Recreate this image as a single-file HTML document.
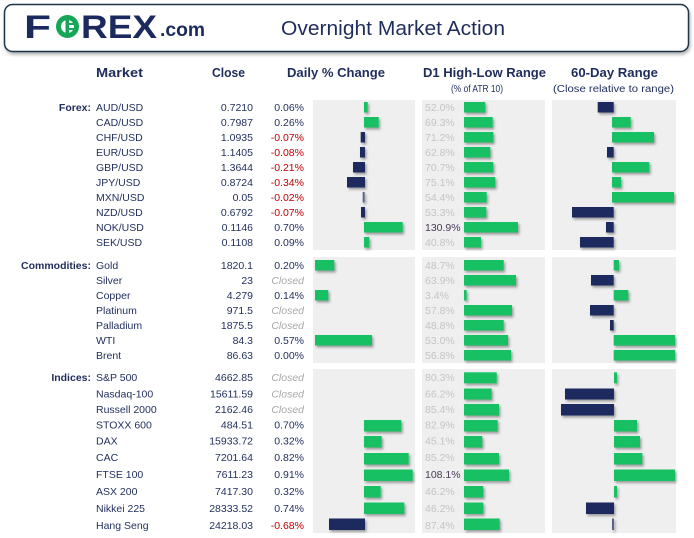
<!DOCTYPE html>
<html><head><meta charset="utf-8"><style>
html,body{margin:0;padding:0;background:#fff;}
svg{display:block;}
text{font-family:"Liberation Sans",Arial,sans-serif;}
</style></head><body>
<svg width="694" height="538" viewBox="0 0 694 538" xmlns="http://www.w3.org/2000/svg">
<defs>
<filter id="sh" x="-20%" y="-30%" width="150%" height="180%">
<feDropShadow dx="1.5" dy="2" stdDeviation="1.2" flood-color="#000" flood-opacity="0.35"/>
</filter>
<filter id="hs" x="-5%" y="-20%" width="110%" height="150%">
<feDropShadow dx="1" dy="2.5" stdDeviation="1.5" flood-color="#000" flood-opacity="0.3"/>
</filter>
</defs>
<rect x="0" y="0" width="694" height="538" fill="#fff"/>
<!-- header box -->
<rect x="4.5" y="4.5" width="684" height="47" rx="8" fill="#fff" stroke="#1c3646" stroke-width="1.5" filter="url(#hs)"/>
<!-- logo -->
<text x="24" y="38" font-size="32" font-weight="bold" fill="#1a2a5e" textLength="27" lengthAdjust="spacingAndGlyphs">F</text>
<circle cx="67.5" cy="26.5" r="9" fill="none" stroke="#17a558" stroke-width="5"/>
<rect x="65.5" y="20" width="3.5" height="13" fill="#17a558"/>
<rect x="69" y="23" width="7" height="2" fill="#17a558"/>
<rect x="69" y="28" width="7" height="2" fill="#17a558"/>
<text x="81" y="38" font-size="32" font-weight="bold" fill="#1a2a5e" textLength="76" lengthAdjust="spacingAndGlyphs">REX</text>
<text x="160" y="36" font-size="19" font-weight="bold" fill="#1a2a5e" textLength="45" lengthAdjust="spacingAndGlyphs">.com</text>
<text x="281" y="35" font-size="20" fill="#1f2d5c" textLength="224" lengthAdjust="spacingAndGlyphs">Overnight Market Action</text>
<!-- column headers -->
<g font-size="13" font-weight="bold" fill="#1f2d5c">
<text x="96" y="77" textLength="47" lengthAdjust="spacingAndGlyphs">Market</text>
<text x="212" y="77" textLength="33" lengthAdjust="spacingAndGlyphs">Close</text>
<text x="287" y="77" textLength="98" lengthAdjust="spacingAndGlyphs">Daily % Change</text>
<text x="423" y="77" textLength="123" lengthAdjust="spacingAndGlyphs">D1 High-Low Range</text>
<text x="571" y="77" textLength="87" lengthAdjust="spacingAndGlyphs">60-Day Range</text>
</g>
<g font-size="10" fill="#1f2d5c">
<text x="451" y="92" textLength="52" lengthAdjust="spacingAndGlyphs">(% of ATR 10)</text>
<text x="553" y="92" textLength="121" lengthAdjust="spacingAndGlyphs">(Close relative to range)</text>
</g>
<!-- panels -->
<g fill="#efefef">
<rect x="313" y="100" width="102" height="150"/>
<rect x="422" y="100" width="123" height="150"/>
<rect x="552" y="100" width="124" height="150"/>
<rect x="313" y="257" width="102" height="106"/>
<rect x="422" y="257" width="123" height="106"/>
<rect x="552" y="257" width="124" height="106"/>
<rect x="313" y="369" width="102" height="164"/>
<rect x="422" y="369" width="123" height="164"/>
<rect x="552" y="369" width="124" height="164"/>
</g>
<!-- section labels -->
<g font-size="10.5" font-weight="bold" fill="#1f2d5c" text-anchor="end">
<text x="91" y="111">Forex:</text>
<text x="91" y="269">Commodities:</text>
<text x="91" y="381">Indices:</text>
</g>
<!-- FOREX rows -->
<g font-size="10.5" fill="#1f2d5c">
<text x="96" y="111">AUD/USD</text>
<text x="96" y="126">CAD/USD</text>
<text x="96" y="141">CHF/USD</text>
<text x="96" y="156">EUR/USD</text>
<text x="96" y="171">GBP/USD</text>
<text x="96" y="186">JPY/USD</text>
<text x="96" y="201">MXN/USD</text>
<text x="96" y="216">NZD/USD</text>
<text x="96" y="231">NOK/USD</text>
<text x="96" y="246">SEK/USD</text>
<text x="96" y="269">Gold</text>
<text x="96" y="284">Silver</text>
<text x="96" y="299">Copper</text>
<text x="96" y="314">Platinum</text>
<text x="96" y="329">Palladium</text>
<text x="96" y="344">WTI</text>
<text x="96" y="359">Brent</text>
<text x="96" y="381">S&amp;P 500</text>
<text x="96" y="397.5">Nasdaq-100</text>
<text x="96" y="413">Russell 2000</text>
<text x="96" y="428.5">STOXX 600</text>
<text x="96" y="444.5">DAX</text>
<text x="96" y="461">CAC</text>
<text x="96" y="478">FTSE 100</text>
<text x="96" y="495">ASX 200</text>
<text x="96" y="512">Nikkei 225</text>
<text x="96" y="529">Hang Seng</text>
</g>
<g font-size="10.5" fill="#1f2d5c" text-anchor="end">
<text x="253" y="111">0.7210</text>
<text x="253" y="126">0.7987</text>
<text x="253" y="141">1.0935</text>
<text x="253" y="156">1.1405</text>
<text x="253" y="171">1.3644</text>
<text x="253" y="186">0.8724</text>
<text x="253" y="201">0.05</text>
<text x="253" y="216">0.6792</text>
<text x="253" y="231">0.1146</text>
<text x="253" y="246">0.1108</text>
<text x="253" y="269">1820.1</text>
<text x="253" y="284">23</text>
<text x="253" y="299">4.279</text>
<text x="253" y="314">971.5</text>
<text x="253" y="329">1875.5</text>
<text x="253" y="344">84.3</text>
<text x="253" y="359">86.63</text>
<text x="253" y="381">4662.85</text>
<text x="253" y="397.5">15611.59</text>
<text x="253" y="413">2162.46</text>
<text x="253" y="428.5">484.51</text>
<text x="253" y="444.5">15933.72</text>
<text x="253" y="461">7201.64</text>
<text x="253" y="478">7611.23</text>
<text x="253" y="495">7417.30</text>
<text x="253" y="512">28333.52</text>
<text x="253" y="529">24218.03</text>
<!-- daily % -->
<text x="304" y="111">0.06%</text>
<text x="304" y="126">0.26%</text>
<text x="304" y="141" fill="#c00000">-0.07%</text>
<text x="304" y="156" fill="#c00000">-0.08%</text>
<text x="304" y="171" fill="#c00000">-0.21%</text>
<text x="304" y="186" fill="#c00000">-0.34%</text>
<text x="304" y="201" fill="#c00000">-0.02%</text>
<text x="304" y="216" fill="#c00000">-0.07%</text>
<text x="304" y="231">0.70%</text>
<text x="304" y="246">0.09%</text>
<text x="304" y="269">0.20%</text>
<text x="304" y="284" fill="#a8a8a8" font-style="italic">Closed</text>
<text x="304" y="299">0.14%</text>
<text x="304" y="314" fill="#a8a8a8" font-style="italic">Closed</text>
<text x="304" y="329" fill="#a8a8a8" font-style="italic">Closed</text>
<text x="304" y="344">0.57%</text>
<text x="304" y="359">0.00%</text>
<text x="304" y="381" fill="#a8a8a8" font-style="italic">Closed</text>
<text x="304" y="397.5" fill="#a8a8a8" font-style="italic">Closed</text>
<text x="304" y="413" fill="#a8a8a8" font-style="italic">Closed</text>
<text x="304" y="428.5">0.70%</text>
<text x="304" y="444.5">0.32%</text>
<text x="304" y="461">0.82%</text>
<text x="304" y="478">0.91%</text>
<text x="304" y="495">0.32%</text>
<text x="304" y="512">0.74%</text>
<text x="304" y="529" fill="#c00000">-0.68%</text>
</g>
<!-- D1 labels -->
<g font-size="10.5" fill="#c4c4c4">
<text x="425" y="111">52.0%</text>
<text x="425" y="126">69.3%</text>
<text x="425" y="141">71.2%</text>
<text x="425" y="156">62.8%</text>
<text x="425" y="171">70.7%</text>
<text x="425" y="186">75.1%</text>
<text x="425" y="201">54.4%</text>
<text x="425" y="216">53.3%</text>
<text x="425" y="231" fill="#4a3a5a">130.9%</text>
<text x="425" y="246">40.8%</text>
<text x="425" y="269">48.7%</text>
<text x="425" y="284">63.9%</text>
<text x="425" y="299">3.4%</text>
<text x="425" y="314">57.8%</text>
<text x="425" y="329">48.8%</text>
<text x="425" y="344">53.0%</text>
<text x="425" y="359">56.8%</text>
<text x="425" y="381">80.3%</text>
<text x="425" y="397.5">66.2%</text>
<text x="425" y="413">85.4%</text>
<text x="425" y="428.5">82.9%</text>
<text x="425" y="444.5">45.1%</text>
<text x="425" y="461">85.2%</text>
<text x="425" y="478" fill="#4a3a5a">108.1%</text>
<text x="425" y="495">46.2%</text>
<text x="425" y="512">46.2%</text>
<text x="425" y="529">87.4%</text>
</g>
<!-- bars -->
<g filter="url(#sh)">
<!-- forex daily -->
<rect x="364" y="102" width="3.7" height="10.5" fill="#12c064"/>
<rect x="364" y="117" width="14.7" height="10.5" fill="#12c064"/>
<rect x="360.7" y="132" width="4.3" height="10.5" fill="#1b2a60"/>
<rect x="360" y="147" width="5" height="10.5" fill="#1b2a60"/>
<rect x="353" y="162" width="12" height="10.5" fill="#1b2a60"/>
<rect x="347" y="177" width="18" height="10.5" fill="#1b2a60"/>
<rect x="362.7" y="192" width="2" height="10.5" fill="#5a6488"/>
<rect x="361" y="207" width="4" height="10.5" fill="#1b2a60"/>
<rect x="364" y="222" width="38.7" height="10.5" fill="#12c064"/>
<rect x="364" y="237" width="5.3" height="10.5" fill="#12c064"/>
<!-- forex D1 -->
<rect x="464" y="102" width="21.3" height="10.5" fill="#12c064"/>
<rect x="464" y="117" width="28.7" height="10.5" fill="#12c064"/>
<rect x="464" y="132" width="29.3" height="10.5" fill="#12c064"/>
<rect x="464" y="147" width="26.3" height="10.5" fill="#12c064"/>
<rect x="464" y="162" width="29.3" height="10.5" fill="#12c064"/>
<rect x="464" y="177" width="31.3" height="10.5" fill="#12c064"/>
<rect x="464" y="192" width="22.7" height="10.5" fill="#12c064"/>
<rect x="464" y="207" width="22.3" height="10.5" fill="#12c064"/>
<rect x="464" y="222" width="54" height="10.5" fill="#12c064"/>
<rect x="464" y="237" width="17" height="10.5" fill="#12c064"/>
<!-- forex 60d -->
<rect x="597.7" y="102" width="16" height="10.5" fill="#1b2a60"/>
<rect x="612" y="117" width="18.7" height="10.5" fill="#12c064"/>
<rect x="612" y="132" width="42" height="10.5" fill="#12c064"/>
<rect x="607" y="147" width="6.7" height="10.5" fill="#1b2a60"/>
<rect x="612" y="162" width="37.3" height="10.5" fill="#12c064"/>
<rect x="612" y="177" width="9" height="10.5" fill="#12c064"/>
<rect x="612" y="192" width="62" height="10.5" fill="#12c064"/>
<rect x="572" y="207" width="41.7" height="10.5" fill="#1b2a60"/>
<rect x="606" y="222" width="7.7" height="10.5" fill="#1b2a60"/>
<rect x="580" y="237" width="33.7" height="10.5" fill="#1b2a60"/>
<!-- commodities daily -->
<rect x="315" y="260" width="19.3" height="10.5" fill="#12c064"/>
<rect x="315" y="290" width="13.3" height="10.5" fill="#12c064"/>
<rect x="315" y="335" width="57" height="10.5" fill="#12c064"/>
<!-- commodities D1 -->
<rect x="464" y="260" width="39.7" height="10.5" fill="#12c064"/>
<rect x="464" y="275" width="52" height="10.5" fill="#12c064"/>
<rect x="464" y="290" width="2.7" height="10.5" fill="#12c064"/>
<rect x="464" y="305" width="48" height="10.5" fill="#12c064"/>
<rect x="464" y="320" width="39.7" height="10.5" fill="#12c064"/>
<rect x="464" y="335" width="44" height="10.5" fill="#12c064"/>
<rect x="464" y="350" width="47" height="10.5" fill="#12c064"/>
<!-- commodities 60d -->
<rect x="613.7" y="260" width="5.3" height="10.5" fill="#12c064"/>
<rect x="591" y="275" width="22.7" height="10.5" fill="#1b2a60"/>
<rect x="613.7" y="290" width="14.6" height="10.5" fill="#12c064"/>
<rect x="590" y="305" width="23.7" height="10.5" fill="#1b2a60"/>
<rect x="610" y="320" width="3.7" height="10.5" fill="#1b2a60"/>
<rect x="613.7" y="335" width="61.3" height="10.5" fill="#12c064"/>
<rect x="613.7" y="350" width="61.3" height="10.5" fill="#12c064"/>
<!-- indices daily -->
<rect x="364" y="420" width="37.3" height="11.5" fill="#12c064"/>
<rect x="364" y="436" width="17.7" height="11.5" fill="#12c064"/>
<rect x="364" y="453" width="44.7" height="11.5" fill="#12c064"/>
<rect x="364" y="469.5" width="48.7" height="11.5" fill="#12c064"/>
<rect x="364" y="486" width="16.7" height="11.5" fill="#12c064"/>
<rect x="364" y="502.5" width="40.3" height="11.5" fill="#12c064"/>
<rect x="329" y="518.5" width="36" height="11.5" fill="#1b2a60"/>
<!-- indices D1 -->
<rect x="464" y="372.3" width="32.7" height="11" fill="#12c064"/>
<rect x="464" y="388.5" width="27.7" height="11" fill="#12c064"/>
<rect x="464" y="404" width="35" height="11.5" fill="#12c064"/>
<rect x="464" y="420" width="33.7" height="11.5" fill="#12c064"/>
<rect x="464" y="436" width="18.3" height="11.5" fill="#12c064"/>
<rect x="464" y="453" width="35" height="11.5" fill="#12c064"/>
<rect x="464" y="469.5" width="45" height="11.5" fill="#12c064"/>
<rect x="464" y="486" width="19.3" height="11.5" fill="#12c064"/>
<rect x="464" y="502.5" width="19.3" height="11.5" fill="#12c064"/>
<rect x="464" y="518.5" width="35.7" height="11.5" fill="#12c064"/>
<!-- indices 60d -->
<rect x="614" y="372.3" width="3" height="11" fill="#12c064"/>
<rect x="565" y="388.5" width="49" height="11" fill="#1b2a60"/>
<rect x="561" y="404" width="53" height="11.5" fill="#1b2a60"/>
<rect x="614" y="420" width="23" height="11.5" fill="#12c064"/>
<rect x="614" y="436" width="26" height="11.5" fill="#12c064"/>
<rect x="614" y="453" width="28.3" height="11.5" fill="#12c064"/>
<rect x="614" y="469.5" width="61" height="11.5" fill="#12c064"/>
<rect x="614" y="486" width="3" height="11.5" fill="#12c064"/>
<rect x="586" y="502.5" width="28" height="11.5" fill="#1b2a60"/>
<rect x="612" y="518.5" width="2" height="11.5" fill="#5a6488"/>
</g>
</svg>
</body></html>
